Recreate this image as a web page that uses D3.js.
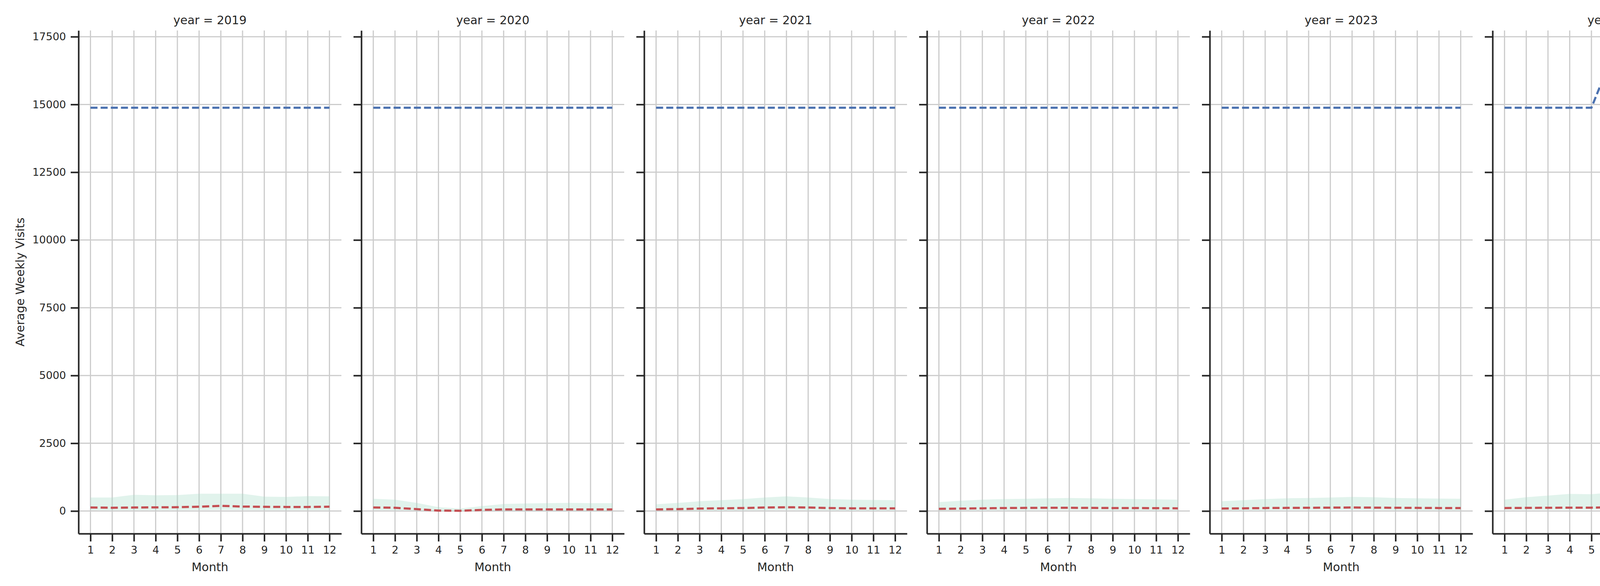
<!DOCTYPE html>
<html><head><meta charset="utf-8">
<script src="https://cdn.jsdelivr.net/npm/d3@7"></script>
<style>body{margin:0;background:#fff}</style></head>
<body><svg id="c" width="5250" height="1500"></svg>
<script>
const years = [2019,2020,2021,2022,2023,2024,2025];
const months = [1,2,3,4,5,6,7,8,9,10,11,12];
const yTicks = [0,2500,5000,7500,10000,12500,15000,17500];
const median = [
 [130,120,130,135,140,160,190,165,155,150,150,160],
 [130,120,70,15,10,40,60,60,60,60,60,60],
 [60,70,90,100,110,130,140,130,110,100,100,100],
 [80,90,100,110,115,120,120,115,110,110,105,100],
 [90,100,110,115,120,125,130,125,120,115,110,110],
 [110,115,120,125,125,135,140,135,115,120,125,130],
 [130,120,120,115,130,130]
];
const q25 = [
 [30,30,30,35,35,40,45,40,35,35,35,35],
 [30,30,15,0,0,5,10,10,10,10,10,10],
 [10,15,20,25,30,35,40,35,30,25,25,25],
 [20,25,30,35,35,40,40,35,30,30,30,30],
 [25,30,35,40,40,45,45,40,35,35,35,30],
 [40,45,45,50,50,55,60,55,45,50,50,50],
 [50,45,45,40,45,45]
];
const q75 = [
 [500,500,600,580,590,640,640,640,530,520,550,540],
 [450,420,300,140,90,180,260,280,290,300,290,290],
 [250,300,360,400,440,500,540,500,440,420,410,400],
 [330,380,420,440,450,470,480,470,450,440,430,420],
 [360,400,440,470,480,500,520,510,480,470,460,450],
 [420,510,570,630,620,690,710,710,540,560,600,620],
 [540,460,450,440,490,480]
];
const firstParty = [
 Array(12).fill(14880),Array(12).fill(14880),Array(12).fill(14880),
 Array(12).fill(14880),Array(12).fill(14880),
 [14880,14880,14880,14880,14880,16870,16700,16100,15500,15430,14300,14700],
 [12250,14850,15600,14730,14730,14730]
];

const svg = d3.select('#c');
const F = 'DejaVu Sans, sans-serif';
const T=78, B=1366, pw=673, gap=724, left0=201;
const y = d3.scaleLinear().domain([-835,17730]).range([B,T]);
const dash='18,8';
years.forEach((yr,i)=>{
  const L = left0 + i*gap;
  const x = d3.scaleLinear().domain([0.45,12.55]).range([L,L+pw]);
  const g = svg.append('g');
  g.selectAll('.gx').data(months).join('line').attr('x1',d=>x(d)).attr('x2',d=>x(d))
   .attr('y1',T).attr('y2',B).attr('stroke','#cccccc').attr('stroke-width',3);
  g.selectAll('.gy').data(yTicks).join('line').attr('y1',d=>y(d)).attr('y2',d=>y(d))
   .attr('x1',L).attr('x2',L+pw).attr('stroke','#cccccc').attr('stroke-width',3);
  const n = median[i].length;
  const idx = d3.range(n);
  g.append('path').datum(idx).attr('fill','#a8dcc9').attr('fill-opacity',0.35)
   .attr('d',d3.area().x(d=>x(months[d])).y0(d=>y(q25[i][d])).y1(d=>y(q75[i][d])));
  g.append('path').datum(idx).attr('fill','none').attr('stroke','#c44e52').attr('stroke-width',5.5)
   .attr('stroke-dasharray',dash).attr('d',d3.line().x(d=>x(months[d])).y(d=>y(median[i][d])));
  g.append('path').datum(idx).attr('fill','none').attr('stroke','#4c72b0').attr('stroke-width',5.5)
   .attr('stroke-dasharray',dash).attr('d',d3.line().x(d=>x(months[d])).y(d=>y(firstParty[i][d])));
  const xa = g.append('g').attr('transform',`translate(0,${B})`)
   .call(d3.axisBottom(x).tickValues(months).tickSize(20).tickPadding(12).tickSizeOuter(0));
  const ya = g.append('g').attr('transform',`translate(${L},0)`)
   .call(d3.axisLeft(y).tickValues(yTicks).tickSize(20).tickPadding(12).tickSizeOuter(0)
   .tickFormat(i===0?d3.format('d'):''));
  [xa,ya].forEach(a=>{
    a.select('.domain').attr('stroke','#262626').attr('stroke-width',4);
    a.selectAll('.tick line').attr('stroke','#262626').attr('stroke-width',4);
    a.selectAll('text').attr('font-family',F).attr('font-size',27).attr('fill','#262626');
  });
  g.append('text').attr('x',L+pw/2).attr('y',1462).attr('text-anchor','middle')
   .attr('font-family',F).attr('font-size',30).attr('fill','#262626').text('Month');
  g.append('text').attr('x',L+pw/2).attr('y',62).attr('text-anchor','middle')
   .attr('font-family',F).attr('font-size',30).attr('fill','#262626').text('year = '+yr);
});
svg.append('text').attr('transform',`translate(62,${(T+B)/2}) rotate(-90)`)
 .attr('text-anchor','middle').attr('font-family',F).attr('font-size',30).attr('fill','#262626')
 .text('Average Weekly Visits');
const lg = svg.append('g').attr('transform','translate(4765,120)');
lg.append('rect').attr('width',465).attr('height',158).attr('rx',6).attr('fill','#fff')
 .attr('fill-opacity',0.8).attr('stroke','#d0d0d0').attr('stroke-width',3);
const items=[['Median','#c44e52','line'],['First Party Median','#4c72b0','line'],['25th-75th Percentile','#a8dcc9','area']];
items.forEach((it,k)=>{
  const cy = 28+k*50;
  if(it[2]==='line') lg.append('line').attr('x1',14).attr('x2',80).attr('y1',cy).attr('y2',cy)
    .attr('stroke',it[1]).attr('stroke-width',5.5).attr('stroke-dasharray','18,8');
  else lg.append('rect').attr('x',14).attr('y',cy-12).attr('width',66).attr('height',24)
    .attr('fill',it[1]).attr('fill-opacity',0.35);
  lg.append('text').attr('x',108).attr('y',cy+10).attr('font-family',F).attr('font-size',30)
   .attr('fill','#262626').text(it[0]);
});
</script></body></html>
